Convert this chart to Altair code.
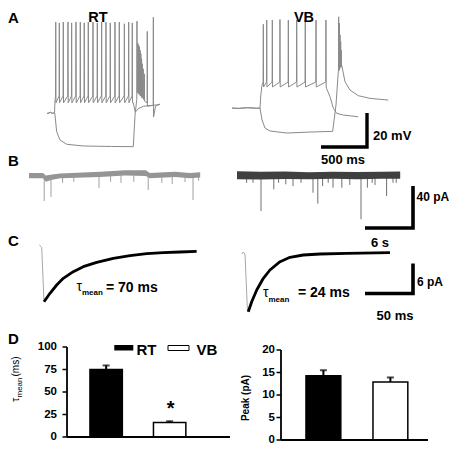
import altair as alt
import pandas as pd

FONT = "Liberation Sans"
M = 8  # page margin (page px -> plot px)

# ---------------- Panel A : current clamp (ms, mV) ----------------
rt_rest_t = [0, 20, 40, 55, 75, 82]
rt_rest_v = [-70.3, -70.0, -69.6, -70.2, -70.0, -69.8]
rt_spike_t = [95, 134, 177, 228, 268, 315, 362, 405, 449, 500, 547, 594, 641, 688, 739, 786, 841, 888, 927]
rt_spike_pk = [-16.5, -17.0, -16.5, -16.5, -17.0, -16.5, -16.5, -17.0, -16.5, -16.5,
               -17.0, -16.5, -16.5, -17.0, -16.5, -16.5, -17.5, -16.5, -17.0]
rt_thr_v, rt_ahp_v = -60.0, -64.0
rt_dep_end_t = [938, 945, 960, 990, 1050, 1150, 1228]
rt_dep_end_v = [-64.0, -66.0, -69.5, -67.5, -66.0, -65.5, -65.0]
rt_hyp_t = [87, 105, 141, 214, 395, 700, 938, 957, 975]
rt_hyp_v = [-71.2, -81.0, -85.9, -88.4, -89.4, -89.7, -89.8, -71.2, -62.4]
rt_burst_t = [978, 988, 996, 1004, 1012, 1020, 1028, 1036, 1046, 1058, 1090, 1156]
rt_burst_pk = [-16.0, -29.0, -30.0, -31.0, -33.0, -35.0, -38.0, -41.0, -44.0, -47.0, -22.0, -13.7]
rt_burst_pre = [-62.0, -58.0, -58.0, -59.0, -59.0, -60.0, -60.0, -61.0, -61.0, -62.0, -64.0, -65.5]
rt_burst_tr = [-58.0, -58.0, -59.0, -59.0, -60.0, -60.0, -61.0, -61.0, -62.0, -63.0, -66.0, -72.4]
rt_hyp_end_t = [1180, 1228]
rt_hyp_end_v = [-66.0, -64.7]

vb_rest_t = [33, 100, 200, 300, 337]
vb_rest_v = [-67.1, -67.3, -66.9, -67.2, -67.1]
vb_rise_t = [345, 359]
vb_rise_v = [-60.0, -53.5]
vb_spike_t = [373, 410, 471, 554, 645, 736, 829, 946, 1054]
vb_spike_pk = [-17.8, -15.3, -15.3, -15.0, -15.3, -15.3, -15.0, -15.3, -15.3]
vb_thr_v, vb_ahp_v = -51.8, -54.7
vb_dep_end_t = [1060, 1098, 1134, 1171, 1242, 1405]
vb_dep_end_v = [-55.5, -60.4, -67.2, -70.2, -71.2, -72.2]
vb_hyp_t = [359, 391, 446, 630, 880, 1127, 1163, 1188]
vb_hyp_v = [-74.1, -78.8, -80.6, -81.8, -81.2, -80.8, -65.3, -45.7]
vb_burst_t = [1192, 1200, 1207, 1214, 1221]
vb_burst_pk = [-13.4, -17.2, -24.0, -28.0, -33.0]
vb_burst_pre = [-45.7, -45.0, -44.0, -43.0, -43.0]
vb_burst_tr = [-45.0, -44.0, -43.0, -43.0, -42.0]
vb_hyp_end_t = [1225, 1261, 1315, 1405, 1533, 1732]
vb_hyp_end_v = [-41.8, -51.6, -56.5, -59.8, -61.4, -62.4]

bar_a_t = [1000, 1500, 1500]   # 500 ms
bar_a_v = [-90, -90, -70]      # 20 mV

# ---------------- Panel B : spontaneous currents (s, pA) ----------------
rt_b_t = [0, 1.75, 2.1, 2.9, 3.9, 8.9, 12.0, 14.6, 15.1, 18.25, 20.1, 21.4]
rt_b_top = [2.5, 2.5, 0.0, 1.0, 2.0, 3.5, 5.0, 5.0, 2.5, 3.5, 2.5, 3.0]
rt_b_bot = [-2.5, -2.5, -6.0, -4.0, -2.5, -1.5, 0.0, -0.5, -2.5, -1.5, -2.5, -2.0]
rt_ev_t = [1.9, 2.75, 4.2, 5.6, 8.75, 10.2, 11.5, 13.1, 14.9, 16.6, 17.9, 19.5, 20.5, 21.2]
rt_ev_a = [-24.3, -20.5, -7.0, -6.0, -11.9, -6.0, -7.0, -6.0, -13.8, -7.0, -8.1, -6.2, -23.3, -5.0]

vb_b_t = [0, 3, 6, 9, 12, 15, 18, 20.4]
vb_b_top = [4.0, 3.5, 3.8, 3.0, 3.6, 3.4, 3.6, 3.8]
vb_b_bot = [-3.5, -3.8, -3.4, -3.6, -3.2, -3.5, -3.0, -3.2]
vb_ev_t = [1.2, 2.0, 3.0, 4.6, 5.2, 6.1, 7.0, 8.0, 9.5, 10.1, 10.7, 11.4, 12.0, 13.1,
           14.1, 15.5, 16.3, 16.9, 17.25, 18.7, 19.5, 19.9]
vb_ev_a = [-7.0, -7.0, -33.8, -13.2, -7.0, -8.4, -10.0, -7.0, -16.4, -26.8, -10.0, -7.0, -11.6, -11.6,
           -9.0, -41.7, -11.6, -7.0, -9.0, -19.5, -6.9, -7.0]

bar_b_t = [16, 22, 22]   # 6 s
bar_b_v = [-50, -50, -10]  # 40 pA

# ---------------- Panel C : averaged events (ms, pA) ----------------
rt_raw_t = [-4.9, -2.4, 0.0]
rt_raw_i = [1.2, 0.74, -10.14]
rt_fit_t = [0, 6.25, 13.2, 20.1, 30.5, 40.9, 54.9, 72.2, 89.6, 107, 124.3, 141.7, 159]
rt_fit_i = [-10.14, -8.46, -6.8, -5.46, -4.14, -3.14, -2.26, -1.46, -0.94, -0.54, -0.34, -0.2, -0.06]
vb_raw_t = [-3.4, -1.8, 0.0, 2.6]
vb_raw_i = [-0.1, 0.3, -0.1, -11.64]
vb_fit_t = [3.4, 7.0, 12.2, 19.1, 26.0, 36.5, 46.9, 60.7, 78.1, 105.9, 151]
vb_fit_i = [-11.64, -9.64, -7.3, -4.96, -3.3, -1.64, -0.76, -0.3, -0.1, 0.04, 0.16]

bar_c_t = [125, 175, 175]  # 50 ms
bar_c_i = [-8, -8, -2]     # 6 pA

# ---------------- Panel D : summary bars ----------------
cats = ["RT", "VB"]
tau_mean = [75, 16]
tau_sem = [4.5, 1.5]
tau_ticks = [0, 25, 50, 75, 100]
peak_mean = [14.3, 12.9]
peak_sem = [1.2, 1.0]
peak_ticks = [0, 5, 10, 15, 20]


# ---------------- helpers ----------------
def qs(d0, d1, v0, p0, k):
    """linear position scale: value v0 sits at page pixel p0, k px per unit"""
    return alt.Scale(domain=[d0, d1], range=[p0 + (d0 - v0) * k - M, p0 + (d1 - v0) * k - M],
                     nice=False, zero=False)


def train(ts, pks, pre, post, w):
    t, v = [], []
    for i, (s, p) in enumerate(zip(ts, pks)):
        a = pre[i] if isinstance(pre, list) else pre
        b = post[i] if isinstance(post, list) else post
        t += [s - w, s, s + w]
        v += [a, p, b]
    return t, v


def line(t, v, xs, ys, color, w, op=1.0, join="round"):
    df = pd.DataFrame({"t": t, "v": v, "i": list(range(len(t)))})
    return alt.Chart(df).mark_line(color=color, strokeWidth=w, opacity=op, strokeJoin=join,
                                   strokeCap="butt").encode(
        x=alt.X("t:Q", scale=xs, axis=None),
        y=alt.Y("v:Q", scale=ys, axis=None),
        order=alt.Order("i:Q"))


def band(t, top, bot, xs, ys, color):
    df = pd.DataFrame({"t": t, "top": top, "bot": bot})
    return alt.Chart(df).mark_area(color=color, opacity=1).encode(
        x=alt.X("t:Q", scale=xs, axis=None),
        y=alt.Y("top:Q", scale=ys, axis=None),
        y2="bot:Q")


def events(t, a, xs, ys, color):
    df = pd.DataFrame({"t": t, "a": a, "z": [0.0] * len(t)})
    return alt.Chart(df).mark_rule(color=color, strokeWidth=1).encode(
        x=alt.X("t:Q", scale=xs, axis=None),
        y=alt.Y("a:Q", scale=ys, axis=None),
        y2="z:Q")


def txt(s, x, y, size, weight="bold", align="left", baseline="alphabetic", angle=0, color="black"):
    return alt.Chart(pd.DataFrame({"s": [s]})).mark_text(
        align=align, baseline=baseline, fontSize=size, fontWeight=weight, font=FONT,
        angle=angle, color=color).encode(
        text="s:N", x=alt.value(x - M), y=alt.value(y - M))


layers = []

# ---- A ----
DA = 5
xa_rt = qs(0, 1300, 0, 47, 0.092)
ya_rt = qs(-100, 0, -70, 108 + DA, -1.7)
xa_vb = qs(0, 1800, 0, 229, 0.092)
ya_vb = qs(-100, 0, -90, 142 + DA, -1.7)
GA = "#8a8a8a"

st, sv = train(rt_spike_t, rt_spike_pk, rt_thr_v, rt_ahp_v, 2.5)
layers.append(line(rt_rest_t + [86] + st + rt_dep_end_t,
                   rt_rest_v + [-63.5] + sv + rt_dep_end_v, xa_rt, ya_rt, GA, 1))
bt, bv = train(rt_burst_t, rt_burst_pk, rt_burst_pre, rt_burst_tr, 2)
layers.append(line(rt_rest_t + rt_hyp_t + bt + rt_hyp_end_t,
                   rt_rest_v + rt_hyp_v + bv + rt_hyp_end_v, xa_rt, ya_rt, GA, 1))

st, sv = train(vb_spike_t, vb_spike_pk, vb_thr_v, vb_ahp_v, 2.5)
layers.append(line(vb_rest_t + vb_rise_t + st + vb_dep_end_t,
                   vb_rest_v + vb_rise_v + sv + vb_dep_end_v, xa_vb, ya_vb, GA, 1))
bt, bv = train(vb_burst_t, vb_burst_pk, vb_burst_pre, vb_burst_tr, 2)
layers.append(line(vb_rest_t + vb_hyp_t + bt + vb_hyp_end_t,
                   vb_rest_v + vb_hyp_v + bv + vb_hyp_end_v, xa_vb, ya_vb, GA, 1))
layers.append(line(bar_a_t, bar_a_v, xa_vb, ya_vb, "black", 3.4, join="miter"))

# ---- B ----
xb_rt = qs(0, 22, 0, 29, 8)
xb_vb = qs(0, 23, 0, 237, 8)
yb = qs(-60, 10, 0, 175.5, -1.05)
layers.append(events(rt_ev_t, rt_ev_a, xb_rt, yb, "#a0a0a0"))
layers.append(band(rt_b_t, rt_b_top, rt_b_bot, xb_rt, yb, "#959595"))
layers.append(events(vb_ev_t, vb_ev_a, xb_vb, yb, "#707070"))
layers.append(band(vb_b_t, vb_b_top, vb_b_bot, xb_vb, yb, "#404040"))
layers.append(line(bar_b_t, bar_b_v, xb_vb, yb, "black", 3.6, join="miter"))

# ---- C ----
xc_rt = qs(-10, 170, 0, 44, 0.96)
yc_rt = qs(-14, 3, 0, 251, -5)
xc_vb = qs(-10, 180, 0, 245, 0.96)
yc_vb = qs(-14, 3, 0, 253.5, -5)
layers.append(line(rt_raw_t, rt_raw_i, xc_rt, yc_rt, "#a8a8a8", 1))
layers.append(line(rt_fit_t, rt_fit_i, xc_rt, yc_rt, "black", 2.8))
layers.append(line(vb_raw_t, vb_raw_i, xc_vb, yc_vb, "#a8a8a8", 1))
layers.append(line(vb_fit_t, vb_fit_i, xc_vb, yc_vb, "black", 2.8))
layers.append(line(bar_c_t, bar_c_i, xc_vb, yc_vb, "black", 3.6, join="miter"))

# ---- D ----
DY = -7
yd_tau = qs(0, 100, 0, 444 + DY, -0.9)
yd_pk = qs(0, 20, 0, 447 + DY, -4.5)
xd_tau = alt.Scale(domain=cats, range=[74.4 - M, 201.4 - M], paddingInner=0.49, paddingOuter=0.245)
xd_pk = alt.Scale(domain=cats, range=[289.9 - M, 423.9 - M], paddingInner=0.48, paddingOuter=0.24)
fill_scale = alt.Scale(domain=cats, range=["black", "white"])


def bar_panel(means, sems, ticks, xs, ys, axis_x, axis_x_end, lab_x, lab_size):
    df = pd.DataFrame({"cat": cats, "m": means,
                       "top": [a + b for a, b in zip(means, sems)]})
    out = []
    out.append(alt.Chart(df).mark_rule(color="black", strokeWidth=2).encode(
        x=alt.X("cat:N", scale=xs, axis=None), y=alt.Y("m:Q", scale=ys, axis=None), y2="top:Q"))
    out.append(alt.Chart(df).mark_tick(color="black", thickness=2, size=7, orient="horizontal").encode(
        x=alt.X("cat:N", scale=xs, axis=None), y=alt.Y("top:Q", scale=ys, axis=None)))
    out.append(alt.Chart(df).mark_bar(stroke="black", strokeWidth=1.5).encode(
        x=alt.X("cat:N", scale=xs, axis=None), y=alt.Y("m:Q", scale=ys, axis=None),
        fill=alt.Fill("cat:N", scale=fill_scale, legend=None)))
    tdf = pd.DataFrame({"v": ticks, "lab": [str(t) for t in ticks]})
    out.append(alt.Chart(tdf).mark_rule(color="black", strokeWidth=1.5).encode(
        x=alt.value(axis_x - 4.5 - M), x2=alt.value(axis_x - M), y=alt.Y("v:Q", scale=ys, axis=None)))
    out.append(alt.Chart(tdf).mark_text(align="right", baseline="middle", fontSize=lab_size,
                                         fontWeight="bold", font=FONT).encode(
        x=alt.value(lab_x - M), y=alt.Y("v:Q", scale=ys, axis=None), text="lab:N"))
    adf = pd.DataFrame({"a": [ticks[0]], "b": [ticks[-1]]})
    out.append(alt.Chart(adf).mark_rule(color="black", strokeWidth=1.8).encode(
        x=alt.value(axis_x - M), y=alt.Y("a:Q", scale=ys, axis=None), y2="b:Q"))
    out.append(alt.Chart(adf).mark_rule(color="black", strokeWidth=1.8).encode(
        x=alt.value(axis_x - M), x2=alt.value(axis_x_end - M), y=alt.Y("a:Q", scale=ys, axis=None)))
    return out


layers += bar_panel(tau_mean, tau_sem, tau_ticks, xd_tau, yd_tau, 67, 230, 57, 11.5)
layers += bar_panel(peak_mean, peak_sem, peak_ticks, xd_pk, yd_pk, 281, 428, 275, 11.5)

# legend of D
layers.append(alt.Chart(pd.DataFrame({"k": [0]})).mark_rect(color="black").encode(
    x=alt.value(114.3 - M), x2=alt.value(133.3 - M), y=alt.value(352 + DY - M), y2=alt.value(357.5 + DY - M)))
layers.append(alt.Chart(pd.DataFrame({"k": [0]})).mark_rect(fill="white", stroke="black", strokeWidth=1).encode(
    x=alt.value(168 - M), x2=alt.value(189 - M), y=alt.value(352.5 + DY - M), y2=alt.value(357.5 + DY - M)))

# ---------------- texts ----------------
texts = [
    txt("A", 8, 22.5, 15),
    txt("RT", 98, 22, 14.5, align="center"),
    txt("VB", 304, 22, 14.5, align="center"),
    txt("20 mV", 373, 131 + DA, 13, baseline="middle"),
    txt("500 ms", 343, 155 + DA, 13, align="center", baseline="middle"),
    txt("B", 8, 166, 15),
    txt("40 pA", 416.5, 196.5, 12, baseline="middle"),
    txt("6 s", 380, 242.5, 13, align="center", baseline="middle"),
    txt("C", 8, 246, 15),
    txt("6 pA", 417, 281.5, 12, baseline="middle"),
    txt("50 ms", 395, 316, 13, align="center", baseline="middle"),
    txt("\u03c4", 76.5, 290.5, 14, weight="normal"),
    txt("mean", 82, 295, 8),
    txt("= 70 ms", 106, 291.5, 14),
    txt("\u03c4", 263, 296.5, 14, weight="normal"),
    txt("mean", 268.5, 301.5, 8),
    txt("= 24 ms", 298, 297, 14),
    txt("D", 8, 344, 15),
    txt("RT", 136.5, 361.7 + DY, 15),
    txt("VB", 196.5, 361.7 + DY, 15),
    txt("*", 170.7, 422 + DY, 20, align="center"),
    txt("\u03c4", 18.5, 409 + DY, 11, weight="normal", angle=270),
    txt("mean", 21.5, 404.5 + DY, 8, weight="normal", angle=270),
    txt("(ms)", 18.5, 383.5 + DY, 10, weight="normal", angle=270),
    txt("Peak (pA)", 245.5, 405 + DY, 10, align="center", baseline="middle", angle=270),
]
layers += texts

chart = alt.layer(*layers).resolve_scale(x="independent", y="independent").properties(
    width=441, height=436, padding=0,
    autosize=alt.AutoSizeParams(type="none"),
    background="white",
).configure_view(strokeWidth=0)

chart.save("out.html", embed_options={"renderer": "svg", "actions": False})
